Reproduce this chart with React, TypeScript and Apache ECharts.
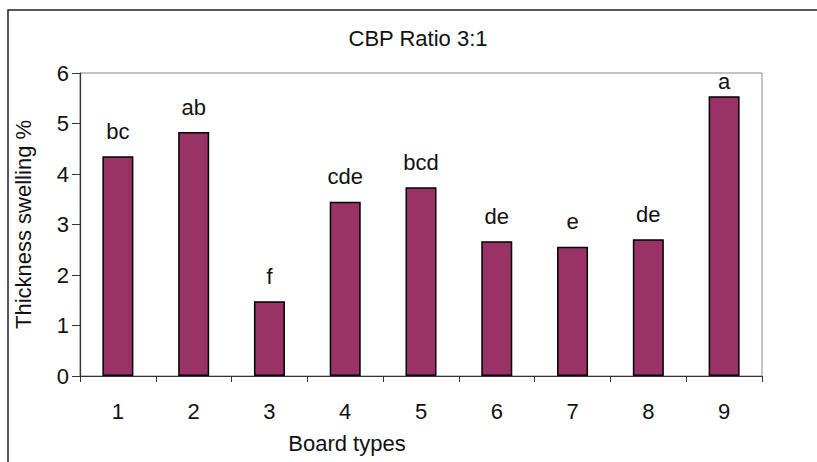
import React, { useEffect, useRef } from "react";
import * as echarts from "echarts";

const categories = ["1", "2", "3", "4", "5", "6", "7", "8", "9"];
const swelling = [4.35, 4.83, 1.48, 3.45, 3.74, 2.67, 2.56, 2.71, 5.54];
const letters = ["bc", "ab", "f", "cde", "bcd", "de", "e", "de", "a"];
const yTicks = { min: 0, max: 6, interval: 1 };
const titleText = "CBP Ratio 3:1";
const xName = "Board types";
const yName = "Thickness swelling %";

const FONT = "'Liberation Sans', Arial, Helvetica, sans-serif";
const FS = 22;

export default function App() {
  const ref = useRef<HTMLDivElement>(null);
  useEffect(() => {
    if (!ref.current) return;
    const chart = echarts.init(ref.current, null, { renderer: "svg" });
    const data = swelling.map((v, i) => ({
      value: v,
      label: {
        formatter: letters[i],
        distance: v > yTicks.max - 0.7 ? 4 : 14,
      },
    }));
    chart.setOption({
      animation: false,
      backgroundColor: "#ffffff",
      textStyle: { fontFamily: FONT },
      grid: {
        left: 80,
        top: 73,
        width: 682,
        height: 303,
        show: true,
        borderColor: "#888888",
        borderWidth: 1,
        backgroundColor: "transparent",
      },
      graphic: [
        {
          type: "rect",
          shape: { x: 8, y: 10, width: 1000, height: 600 },
          style: { fill: "none", stroke: "#222222", lineWidth: 1.5 },
          silent: true,
        },
        {
          type: "text",
          x: 418,
          y: 38,
          style: {
            text: titleText,
            fontSize: FS,
            fontFamily: FONT,
            fill: "#111111",
            textAlign: "center",
            textVerticalAlign: "middle",
          },
        },
        {
          type: "text",
          x: 347,
          y: 443,
          style: {
            text: xName,
            fontSize: FS,
            fontFamily: FONT,
            fill: "#111111",
            textAlign: "center",
            textVerticalAlign: "middle",
          },
        },
      ],
      xAxis: {
        type: "category",
        data: categories,
        axisLine: { lineStyle: { color: "#333333", width: 1.2 } },
        axisTick: { show: true, length: 6, lineStyle: { color: "#333333" } },
        axisLabel: { margin: 24, fontSize: FS, color: "#111111", fontFamily: FONT },
      },
      yAxis: {
        type: "value",
        min: yTicks.min,
        max: yTicks.max,
        interval: yTicks.interval,
        name: yName,
        nameLocation: "middle",
        nameGap: 46,
        nameRotate: 90,
        nameTextStyle: { fontSize: FS, color: "#111111", fontFamily: FONT },
        axisLine: { show: true, lineStyle: { color: "#333333", width: 1.2 } },
        axisTick: { show: true, length: 8, lineStyle: { color: "#333333" } },
        axisLabel: { margin: 11, fontSize: FS, color: "#111111", fontFamily: FONT },
        splitLine: { show: false },
      },
      series: [
        {
          type: "bar",
          data,
          barWidth: 31,
          itemStyle: { color: "#993366", borderColor: "#000000", borderWidth: 1.5 },
          label: {
            show: true,
            position: "top",
            fontSize: FS,
            color: "#111111",
            fontFamily: FONT,
          },
        },
      ],
    });
    return () => chart.dispose();
  }, []);
  return (
    <div
      ref={ref}
      style={{ position: "fixed", left: 0, top: 0, width: 817, height: 462 }}
    />
  );
}
